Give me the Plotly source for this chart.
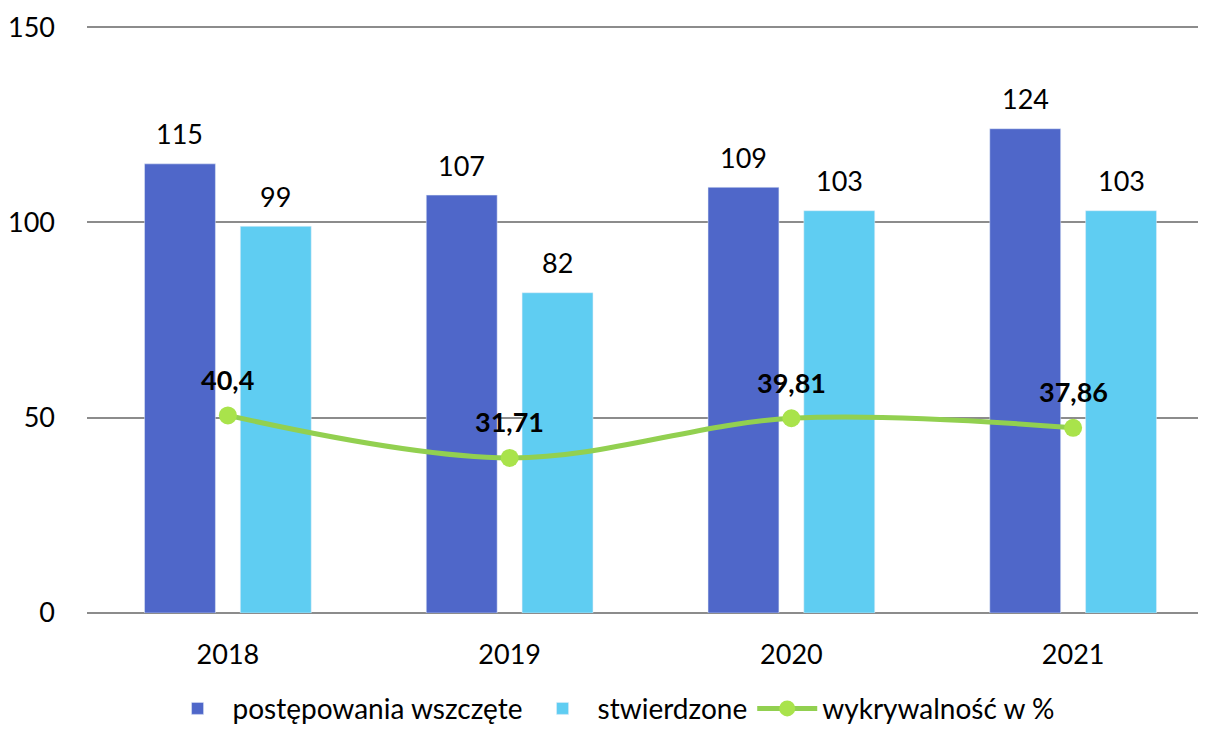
import plotly.graph_objects as go

years = ["2018", "2019", "2020", "2021"]
wszczete = [115, 107, 109, 124]
stwierdzone = [99, 82, 103, 103]
wykrywalnosc = [40.4, 31.71, 39.81, 37.86]

FONT = "Lato"
SZ = 27

def pl(v):
    return f"{v:g}".replace(".", ",")

fig = go.Figure()

fig.add_trace(go.Bar(
    x=years, y=wszczete, name="postępowania wszczęte",
    marker_color="#4F67C9",
))
fig.add_trace(go.Bar(
    x=years, y=stwierdzone, name="stwierdzone",
    marker_color="#5FCDF2",
))
fig.add_trace(go.Scatter(
    x=years, y=wykrywalnosc, name="wykrywalność w %",
    yaxis="y2", mode="lines+markers",
    line=dict(color="#92D050", width=5, shape="spline"),
    marker=dict(color="#A9E34B", size=18),
    cliponaxis=False,
))

# value labels above the bars (annotations so the gap can match the original)
for i, v in enumerate(wszczete):
    fig.add_annotation(x=i, y=v, xref="x", yref="y", text=str(v),
                       showarrow=False, xshift=-48, yshift=30,
                       font=dict(size=SZ, family=FONT, color="black"))
for i, v in enumerate(stwierdzone):
    fig.add_annotation(x=i, y=v, xref="x", yref="y", text=str(v),
                       showarrow=False, xshift=48, yshift=30,
                       font=dict(size=SZ, family=FONT, color="black"))
for i, v in enumerate(wykrywalnosc):
    fig.add_annotation(x=i, y=v, xref="x", yref="y2", text="<b>" + pl(v) + "</b>",
                       showarrow=False, yshift=36,
                       font=dict(size=SZ, family=FONT, color="black"))

fig.update_layout(
    width=1206, height=731,
    margin=dict(l=79, r=0, t=18, b=126, autoexpand=False),
    plot_bgcolor="white", paper_bgcolor="white",
    font=dict(family=FONT, size=SZ, color="black"),
    barmode="group", bargap=0.32, bargroupgap=0.26,
    xaxis=dict(type="category", range=[-0.5, 3.5], showline=False, ticks="",
               tickfont=dict(size=SZ), showgrid=False, automargin=False,
               ticklabelstandoff=23),
    yaxis=dict(range=[0, 150.3], tickvals=[0, 50, 100, 150], showgrid=True,
               gridcolor="#8C8C8C", gridwidth=1.5, zeroline=True,
               zerolinecolor="#8C8C8C", zerolinewidth=1.5,
               tickfont=dict(size=SZ), ticklabelstandoff=31, automargin=False),
    yaxis2=dict(range=[0, 120], overlaying="y", visible=False),
    legend=dict(orientation="h", x=0.465, xanchor="center", y=-0.163,
                yanchor="middle", font=dict(size=28), itemwidth=60,
                traceorder="normal"),
    showlegend=True,
)

fig.write_html("out.html")
